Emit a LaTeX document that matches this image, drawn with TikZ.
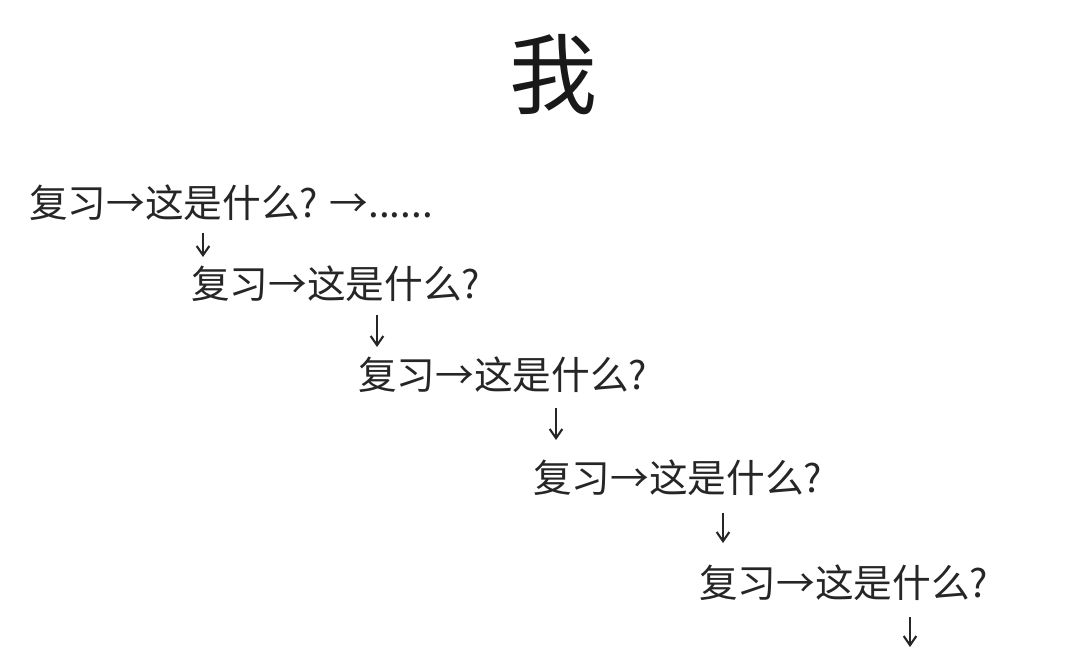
\documentclass[tikz,border=0pt]{standalone}
\usepackage{fontspec}
\newfontfamily\cjk{Noto Sans CJK SC}
\usetikzlibrary{arrows.meta}

\begin{document}
\begin{tikzpicture}[x=0.01cm,y=-0.01cm,line width=0.6pt,
  revline/.style={anchor=west,inner sep=0pt,text=black!85,font=\cjk\fontsize{11}{13}\selectfont},
  downarr/.style={draw=black!85,-{Straight Barb[length=2.6pt,width=3.6pt]}}]
% page
\useasboundingbox (0,0) rectangle (1080,648);
% title
\node[inner sep=0pt,text=black!90,font=\cjk\fontsize{25}{30}\selectfont] (title) at (553,75) {我};
% review lines, each one step further right
\node[revline] (l1) at (28,203) {复习→这是什么? →......};
\node[revline] (l2) at (190,284) {复习→这是什么?};
\node[revline] (l3) at (357,375) {复习→这是什么?};
\node[revline] (l4) at (532,478) {复习→这是什么?};
\node[revline] (l5) at (698,583) {复习→这是什么?};
% arrow ends
\coordinate (d1a) at (203,233); \coordinate (d1b) at (203,257);
\coordinate (d2a) at (377,315); \coordinate (d2b) at (377,347);
\coordinate (d3a) at (556,408); \coordinate (d3b) at (556,440);
\coordinate (d4a) at (723,513); \coordinate (d4b) at (723,543);
\coordinate (d5a) at (910,617); \coordinate (d5b) at (910,647);
% down arrows
\draw[downarr] (d1a) -- (d1b);
\draw[downarr] (d2a) -- (d2b);
\draw[downarr] (d3a) -- (d3b);
\draw[downarr] (d4a) -- (d4b);
\draw[downarr] (d5a) -- (d5b);
\end{tikzpicture}
\end{document}
